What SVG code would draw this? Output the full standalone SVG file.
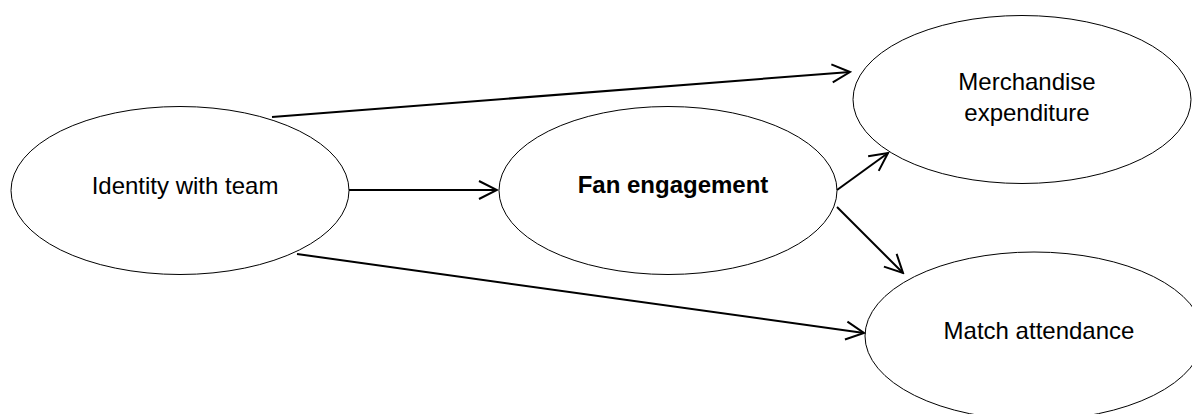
<svg xmlns="http://www.w3.org/2000/svg" width="1192" height="414" viewBox="0 0 1192 414">
<style>
.node ellipse{fill:#fff;stroke:#000;stroke-width:1}
.node text{font-family:"Liberation Sans",Arial,sans-serif;font-size:24px;fill:#000;text-anchor:middle}
.connectors line{stroke:#000;stroke-width:2;fill:none;marker-end:url(#arr)}
</style>
<defs>
<marker id="arr" markerUnits="userSpaceOnUse" markerWidth="22" markerHeight="22" viewBox="0 0 22 22" refX="20" refY="11" orient="auto">
<path d="M2,2 L20,11 L2,20" fill="none" stroke="#000" stroke-width="2"/>
</marker>
</defs>
<rect width="1192" height="414" fill="#fff"/>
<g id="identity" class="node">
<ellipse cx="180" cy="190.5" rx="169" ry="84"/>
<text x="185" y="194">Identity with team</text>
</g>
<g id="engagement" class="node">
<ellipse cx="668" cy="190.5" rx="169" ry="84"/>
<text x="673" y="193" font-weight="bold">Fan engagement</text>
</g>
<g id="merchandise" class="node">
<ellipse cx="1022" cy="99.5" rx="169" ry="84"/>
<text x="1027" y="90">Merchandise</text>
<text x="1027" y="121">expenditure</text>
</g>
<g id="attendance" class="node">
<ellipse cx="1034" cy="336" rx="169" ry="84"/>
<text x="1039" y="339">Match attendance</text>
</g>
<g id="connectors" class="connectors">
<line x1="272" y1="117" x2="850" y2="72"/>
<line x1="349" y1="190" x2="497" y2="190"/>
<line x1="837" y1="190" x2="888" y2="153"/>
<line x1="837" y1="207" x2="903" y2="273"/>
<line x1="297" y1="254" x2="864" y2="333"/>
</g>
</svg>
